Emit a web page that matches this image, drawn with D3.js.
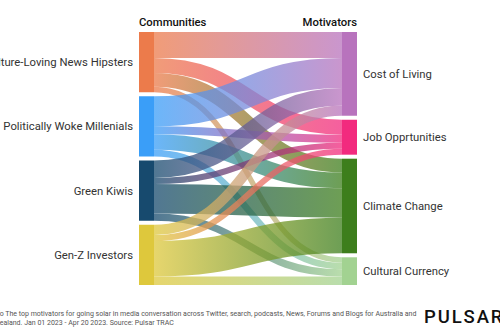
<!DOCTYPE html>
<html>
<head>
<meta charset="utf-8">
<script src="https://cdn.jsdelivr.net/npm/d3@7"></script>
<style>
    body { margin: 0; background: #fff; }
    svg { display: block; font-family: Roboto, "Noto Sans", sans-serif; }
    .label { font-size: 11.3px; fill: #333; }
    .header { font-size: 11.3px; font-weight: 500; fill: #111; }
    .note { font-size: 7px; fill: #555; }
    .logo { font-size: 18.5px; font-weight: 500; letter-spacing: 1.9px; fill: #111; }
</style>
</head>
<body>
<svg width="500" height="330"></svg>
<script>
// Data: share of each community's conversation per motivator (%)
let communities = ["Culture-Loving News Hipsters", "Politically Woke Millenials", "Green Kiwis", "Gen-Z Investors"];
let motivators = ["Cost of Living", "Job Opprtunities", "Climate Change", "Cultural Currency"];
let costOfLiving = [43, 50, 29, 17];
let jobOpportunities = [25, 13, 10, 10];
let climateChange = [23, 26, 49, 59];
let culturalCurrency = [9, 11, 12, 14];

let communityColors = ["#ec7b4b", "#3a9ef8", "#174a6e", "#dec83c"];
let motivatorColors = ["#b873bd", "#f22a7e", "#3d7e1c", "#a2d291"];

// Set up variables
let svg = d3.select("svg");
let chartTop = 32;
let chartBottom = 285;
let nodePadding = 4;
let nodeWidth = 15;
let linkOpacity = 0.75;

let series = [costOfLiving, jobOpportunities, climateChange, culturalCurrency];

// Build links: one per community/motivator pair
let links = [];
communities.forEach(function(c, i) {
    series.forEach(function(s, j) {
        links.push({source: i, target: j, value: s[i]});
    });
});

let sourceTotals = communities.map(function(c, i) { return d3.sum(series, function(s) { return s[i]; }); });
let targetTotals = motivators.map(function(m, j) { return d3.sum(series[j]); });
let total = d3.sum(sourceTotals);

// Scales
let xScale = d3.scaleLinear()
    .domain([0, 1])
    .range([139, 342]);

let vScale = d3.scaleLinear()
    .domain([0, total])
    .range([0, (chartBottom - chartTop) - (communities.length - 1) * nodePadding]);

// Node positions
function layoutNodes(names, totals, colors, column) {
    let y = chartTop;
    return names.map(function(name, i) {
        let h = vScale(totals[i]);
        let node = {name: name, x0: xScale(column), x1: xScale(column) + nodeWidth, y0: y, y1: y + h, color: colors[i]};
        y += h + nodePadding;
        return node;
    });
}

let leftNodes = layoutNodes(communities, sourceTotals, communityColors, 0);
let rightNodes = layoutNodes(motivators, targetTotals, motivatorColors, 1);

// Link offsets inside each node
let leftOffset = leftNodes.map(function(n) { return n.y0; });
let rightOffset = rightNodes.map(function(n) { return n.y0; });

links.forEach(function(l) {
    l.width = vScale(l.value);
    l.y0 = leftOffset[l.source] + l.width / 2;
    leftOffset[l.source] += l.width;
    l.y1 = rightOffset[l.target] + l.width / 2;
    rightOffset[l.target] += l.width;
});

// Gradients
let defs = svg.append("defs");
let grads = defs.selectAll("linearGradient")
    .data(links)
    .enter().append("linearGradient")
    .attr("id", function(d, i) { return "grad" + i; })
    .attr("gradientUnits", "userSpaceOnUse")
    .attr("x1", xScale(0) + nodeWidth)
    .attr("x2", xScale(1));

grads.append("stop")
    .attr("offset", "0%")
    .attr("stop-color", function(d) { return communityColors[d.source]; });

grads.append("stop")
    .attr("offset", "100%")
    .attr("stop-color", function(d) { return motivatorColors[d.target]; });

// Draw links
let linkPath = d3.linkHorizontal()
    .source(function(d) { return [xScale(0) + nodeWidth, d.y0]; })
    .target(function(d) { return [xScale(1), d.y1]; });

svg.append("g")
    .attr("fill", "none")
    .selectAll("path")
    .data(links)
    .enter().append("path")
    .attr("d", linkPath)
    .attr("stroke", function(d, i) { return "url(#grad" + i + ")"; })
    .attr("stroke-width", function(d) { return Math.max(1, d.width); })
    .attr("stroke-opacity", linkOpacity);

// Draw nodes
svg.append("g")
    .selectAll("rect")
    .data(leftNodes.concat(rightNodes))
    .enter().append("rect")
    .attr("x", function(d) { return d.x0; })
    .attr("y", function(d) { return d.y0; })
    .attr("width", function(d) { return d.x1 - d.x0; })
    .attr("height", function(d) { return d.y1 - d.y0; })
    .attr("fill", function(d) { return d.color; });

// Node labels
svg.append("g")
    .selectAll("text")
    .data(leftNodes)
    .enter().append("text")
    .attr("class", "label")
    .attr("x", function(d) { return d.x0 - 6; })
    .attr("y", function(d) { return (d.y0 + d.y1) / 2; })
    .attr("dy", "0.35em")
    .attr("text-anchor", "end")
    .text(function(d) { return d.name; });

svg.append("g")
    .selectAll("text")
    .data(rightNodes)
    .enter().append("text")
    .attr("class", "label")
    .attr("x", function(d) { return d.x1 + 6; })
    .attr("y", function(d) { return (d.y0 + d.y1) / 2; })
    .attr("dy", "0.35em")
    .text(function(d) { return d.name; });

// Column headers
svg.append("text")
    .attr("class", "header")
    .attr("x", xScale(0))
    .attr("y", 26)
    .text("Communities");

svg.append("text")
    .attr("class", "header")
    .attr("x", xScale(1) + nodeWidth)
    .attr("y", 26)
    .attr("text-anchor", "end")
    .text("Motivators");

// Footer note and logo (note runs off the left edge, as in the source)
let note1 = svg.append("text")
    .attr("class", "note")
    .attr("y", 316)
    .text("Info The top motivators for going solar in media conversation across Twitter, search, podcasts, News, Forums and Blogs for Australia and");
note1.attr("x", -note1.node().getSubStringLength(0, 3) - 0.3);

let note2 = svg.append("text")
    .attr("class", "note")
    .attr("y", 324.7)
    .text("Zealand. Jan 01 2023 - Apr 20 2023. Source: Pulsar TRAC");
note2.attr("x", -note2.node().getSubStringLength(0, 1) - 0.3);

svg.append("text")
    .attr("class", "logo")
    .attr("x", 424)
    .attr("y", 322.5)
    .text("PULSAR");
</script>
</body>
</html>
